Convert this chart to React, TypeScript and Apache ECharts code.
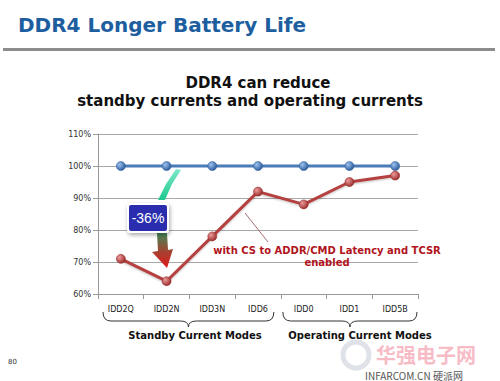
import React, { useEffect, useRef } from "react";
import * as echarts from "echarts";

const categories = ["IDD2Q", "IDD2N", "IDD3N", "IDD6", "IDD0", "IDD1", "IDD5B"];
const baselineValues = [100, 100, 100, 100, 100, 100, 100];
const ddr4Values = [71, 64, 78, 92, 88, 95, 97];
const yTicks = { min: 60, max: 110, interval: 10 };
const groupNames = ["Standby Current Modes", "Operating Current Modes"];
const groupRanges = [
  [0, 3],
  [4, 6],
];
const pageTitle = "DDR4 Longer Battery Life";
const subTitleLines = ["DDR4 can reduce", "standby currents and operating currents"];
const noteLines = ["with CS to ADDR/CMD Latency and TCSR", "enabled"];
const calloutText = "-36%";

const FONT = "'DejaVu Sans', Verdana, sans-serif";

function sphere(light: string, dark: string) {
  return new echarts.graphic.RadialGradient(0.35, 0.35, 0.7, [
    { offset: 0, color: light },
    { offset: 1, color: dark },
  ]);
}

export default function App() {
  const ref = useRef<HTMLDivElement>(null);
  useEffect(() => {
    if (!ref.current) return;
    const chart = echarts.init(ref.current, null, { renderer: "svg" });
    const gridLeft = 98;
    const gridRight = 418;
    const gridTop = 134;
    const gridBottom = 294;
    chart.setOption({
      animation: false,
      backgroundColor: "#ffffff",
      grid: {
        left: gridLeft,
        right: 500 - gridRight,
        top: gridTop,
        bottom: 381 - gridBottom,
        containLabel: false,
      },
      xAxis: {
        type: "category",
        data: categories,
        boundaryGap: true,
        axisLine: { show: true, lineStyle: { color: "#999", width: 1 } },
        axisTick: { show: true, length: 5, lineStyle: { color: "#999" } },
        axisLabel: { color: "#222", fontSize: 8, fontFamily: FONT, margin: 11 },
      },
      yAxis: {
        type: "value",
        min: yTicks.min,
        max: yTicks.max,
        interval: yTicks.interval,
        axisLine: { show: true, lineStyle: { color: "#999", width: 1 } },
        axisTick: { show: true, length: 5, lineStyle: { color: "#999" } },
        axisLabel: {
          formatter: "{value}%",
          color: "#333",
          fontSize: 8,
          fontFamily: FONT,
          margin: 7,
        },
        splitLine: { show: true, lineStyle: { color: "#a8a8a8", width: 1 } },
      },
      series: [
        {
          type: "line",
          data: baselineValues,
          symbol: "circle",
          symbolSize: 9,
          lineStyle: { color: "#4a7cb8", width: 3 },
          itemStyle: { color: sphere("#9cc2ee", "#2a5a9a"), borderColor: "#2a5a9a", borderWidth: 0.5 },
          z: 3,
        },
        {
          type: "line",
          data: ddr4Values,
          symbol: "circle",
          symbolSize: 9,
          lineStyle: { color: "#b5403f", width: 3, shadowColor: "rgba(0,0,0,0.25)", shadowBlur: 2, shadowOffsetY: 1 },
          itemStyle: { color: sphere("#ec9a9a", "#9a2a2a"), borderColor: "#8a2222", borderWidth: 0.5 },
          z: 4,
        },
      ],
    });

    const band = (gridRight - gridLeft) / categories.length;
    const braceEls: any[] = [];
    const labelCenters = [195, 360];
    groupRanges.forEach((r, gi) => {
      const c0 = chart.convertToPixel({ xAxisIndex: 0 }, r[0]) as number;
      const c1 = chart.convertToPixel({ xAxisIndex: 0 }, r[1]) as number;
      const x0 = c0 - band / 2 + (gi === 0 ? 5 : 2);
      const x1 = c1 + band / 2 - (gi === 0 ? 7 : 1);
      const mid = (x0 + x1) / 2;
      const yt = 312;
      const ym = 321;
      const yb = 327;
      const rr = 8;
      const st = { stroke: "#333", lineWidth: 1, fill: "none" };
      braceEls.push(
        { type: "bezierCurve", shape: { x1: x0, y1: yt, x2: x0 + rr, y2: ym, cpx1: x0, cpy1: ym }, style: st },
        { type: "line", shape: { x1: x0 + rr, y1: ym, x2: mid - rr, y2: ym }, style: st },
        { type: "bezierCurve", shape: { x1: mid - rr, y1: ym, x2: mid, y2: yb, cpx1: mid, cpy1: ym }, style: st },
        { type: "bezierCurve", shape: { x1: mid, y1: yb, x2: mid + rr, y2: ym, cpx1: mid, cpy1: ym }, style: st },
        { type: "line", shape: { x1: mid + rr, y1: ym, x2: x1 - rr, y2: ym }, style: st },
        { type: "bezierCurve", shape: { x1: x1 - rr, y1: ym, x2: x1, y2: yt, cpx1: x1, cpy1: ym }, style: st },
        {
          type: "text",
          x: labelCenters[gi],
          y: 335,
          z: 20,
          style: {
            text: groupNames[gi],
            font: `bold 10px ${FONT}`,
            fill: "#111",
            align: "center",
            verticalAlign: "middle",
          },
        }
      );
    });

    chart.setOption({
      graphic: [
        {
          type: "text",
          x: 18,
          y: 25,
          style: {
            text: pageTitle,
            font: `bold 20px ${FONT}`,
            fill: "#1d5e9f",
            verticalAlign: "middle",
          },
        },
        {
          type: "rect",
          shape: { x: 3, y: 48, width: 492, height: 3 },
          style: { fill: "#8c8c8c" },
        },
        {
          type: "text",
          x: 258,
          y: 83,
          style: {
            text: subTitleLines[0],
            font: `bold 15px ${FONT}`,
            fill: "#111",
            align: "center",
            verticalAlign: "middle",
          },
        },
        {
          type: "text",
          x: 250,
          y: 101,
          style: {
            text: subTitleLines[1],
            font: `bold 15px ${FONT}`,
            fill: "#111",
            align: "center",
            verticalAlign: "middle",
          },
        },
        {
          type: "circle",
          shape: { cx: 356, cy: 355, r: 13 },
          style: { fill: "none", stroke: "rgba(150,160,180,0.3)", lineWidth: 5 },
        },
        {
          type: "text",
          x: 376,
          y: 354,
          style: {
            text: "华强电子网",
            font: `bold 20px 'Noto Sans CJK SC', sans-serif`,
            fill: "rgba(240,120,140,0.5)",
            verticalAlign: "middle",
          },
        },
        {
          type: "text",
          x: 365,
          y: 375,
          style: {
            text: "INFARCOM.CN 硬派网",
            font: `10px 'Noto Sans CJK SC', sans-serif`,
            fill: "#555",
            verticalAlign: "middle",
          },
        },
        ...braceEls,
        {
          type: "line",
          shape: { x1: 245, y1: 213, x2: 268, y2: 242 },
          style: { stroke: "#8a4a4a", lineWidth: 0.8 },
          z: 10,
        },
        {
          type: "text",
          x: 327,
          y: 250,
          z: 10,
          style: {
            text: noteLines[0],
            font: `bold 10px ${FONT}`,
            fill: "#b01420",
            align: "center",
            verticalAlign: "middle",
          },
        },
        {
          type: "text",
          x: 327,
          y: 262,
          z: 10,
          style: {
            text: noteLines[1],
            font: `bold 10px ${FONT}`,
            fill: "#b01420",
            align: "center",
            verticalAlign: "middle",
          },
        },
        {
          type: "polygon",
          z: 10,
          shape: {
            points: [
              [176, 169],
              [181, 170],
              [172, 184],
              [165, 200],
              [158, 200],
              [166, 184],
            ],
          },
          style: {
            fill: new echarts.graphic.LinearGradient(0, 0, 0, 1, [
              { offset: 0, color: "#7ee8c8" },
              { offset: 1, color: "#1ec890" },
            ]),
          },
        },
        {
          type: "rect",
          z: 11,
          shape: { x: 128, y: 204, width: 40, height: 28, r: 3 },
          style: {
            fill: "#2a2fae",
            stroke: "#ffffff",
            lineWidth: 2,
            shadowColor: "rgba(0,0,0,0.35)",
            shadowBlur: 4,
            shadowOffsetX: 1,
            shadowOffsetY: 2,
          },
        },
        {
          type: "text",
          z: 12,
          x: 148,
          y: 218,
          style: {
            text: calloutText,
            font: `14px 'Liberation Sans', Arial, sans-serif`,
            fill: "#ffffff",
            align: "center",
            verticalAlign: "middle",
          },
        },
        {
          type: "polygon",
          z: 10,
          shape: {
            points: [
              [157, 233],
              [167, 233],
              [168, 250],
              [173, 249],
              [167, 268],
              [152, 252],
              [158, 251],
            ],
          },
          style: {
            fill: new echarts.graphic.LinearGradient(0, 0, 0, 1, [
              { offset: 0, color: "#3f8a55" },
              { offset: 0.55, color: "#a84030" },
              { offset: 1, color: "#e01818" },
            ]),
          },
        },
        {
          type: "text",
          x: 8,
          y: 362,
          style: { text: "80", font: `7px ${FONT}`, fill: "#333", verticalAlign: "middle" },
        },
      ],
    });
    return () => chart.dispose();
  }, []);
  return (
    <div
      ref={ref}
      style={{ position: "fixed", left: 0, top: 0, width: 500, height: 381, background: "#fff" }}
    />
  );
}
